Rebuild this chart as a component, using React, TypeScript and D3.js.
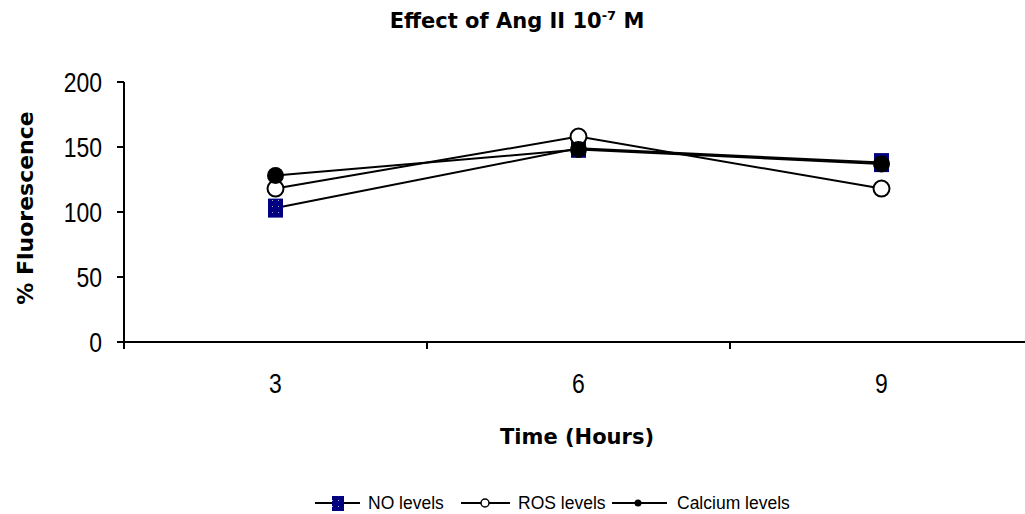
import React from "react";
import * as d3 from "d3";

const categories = ["3", "6", "9"];
const noLevels = [103, 149, 138];
const rosLevels = [118, 158, 118];
const calciumLevels = [128, 148, 137];
const yTicks = [0, 50, 100, 150, 200];

const W = 1025;
const H = 514;

export default function App() {
  const x = d3.scaleBand<string>().domain(categories).range([124, 1033]);
  const y = d3.scaleLinear().domain([0, 200]).range([342, 82]);
  const cx = (c: string) => (x(c) as number) + x.bandwidth() / 2;
  const line = d3
    .line<number>()
    .x((_, i) => cx(categories[i]))
    .y((d) => y(d));
  const sans = "'Liberation Sans', Arial, sans-serif";
  const bold = "'DejaVu Sans', 'Liberation Sans', Arial, sans-serif";

  const square = (px: number, py: number, key: string | number) => (
    <rect key={key} x={px - 7.5} y={py - 9.5} width={15} height={19} fill="url(#dots)" />
  );
  const ros = (px: number, py: number, key: string | number) => (
    <circle key={key} cx={px} cy={py} r={8} fill="#fff" stroke="#000" strokeWidth={2} />
  );
  const cal = (px: number, py: number, key: string | number) => (
    <circle key={key} cx={px} cy={py} r={8.5} fill="#000" />
  );

  return (
    <svg width={W} height={H} style={{ position: "absolute", left: 0, top: 0, background: "#fff" }}>
      <defs>
        <pattern id="dots" width={6} height={6} patternUnits="userSpaceOnUse">
          <rect width={6} height={6} fill="#000080" />
          <rect x={2} y={2} width={1} height={1} fill="#aab" />
        </pattern>
      </defs>
      <rect width={W} height={H} fill="#fff" />
      <text x={517} y={28} textAnchor="middle" fontFamily={bold} fontWeight="bold" fontSize={21}>
        Effect of Ang II 10
        <tspan dy={-8} fontSize={13}>-7</tspan>
        <tspan dy={8}> M</tspan>
      </text>
      {/* y axis */}
      <line x1={124} x2={124} y1={y(200)} y2={y(0)} stroke="#000" strokeWidth={2} />
      {yTicks.map((t) => (
        <g key={t}>
          <line x1={117} x2={124} y1={y(t)} y2={y(t)} stroke="#000" strokeWidth={2} />
          <text
            transform={`translate(102,${y(t) + 10}) scale(0.82,1)`}
            textAnchor="end"
            fontFamily={sans}
            fontSize={28}
          >
            {t}
          </text>
        </g>
      ))}
      <text
        transform={`translate(33,${208}) rotate(-90)`}
        textAnchor="middle"
        fontFamily={bold}
        fontWeight="bold"
        fontSize={22}
      >
        % Fluorescence
      </text>
      {/* x axis */}
      <line x1={117} x2={W} y1={y(0)} y2={y(0)} stroke="#000" strokeWidth={2} />
      {categories.map((c) => (
        <line key={c} x1={x(c) as number} x2={x(c) as number} y1={y(0)} y2={y(0) + 7} stroke="#000" strokeWidth={2} />
      ))}
      {categories.map((c) => (
        <text
          key={c}
          transform={`translate(${cx(c)},393) scale(0.82,1)`}
          textAnchor="middle"
          fontFamily={sans}
          fontSize={28}
        >
          {c}
        </text>
      ))}
      <text x={577} y={444} textAnchor="middle" fontFamily={bold} fontWeight="bold" fontSize={21}>
        Time (Hours)
      </text>
      {/* lines */}
      {[noLevels, rosLevels, calciumLevels].map((s, i) => (
        <path key={i} d={line(s) as string} fill="none" stroke="#000" strokeWidth={2} />
      ))}
      {noLevels.map((v, i) => square(cx(categories[i]), y(v), "n" + i))}
      {rosLevels.map((v, i) => ros(cx(categories[i]), y(v), "r" + i))}
      {calciumLevels.map((v, i) => cal(cx(categories[i]), y(v), "c" + i))}
      {/* legend */}
      <g fontFamily={sans} fontSize={17.5}>
        <line x1={315} x2={360} y1={503} y2={503} stroke="#000" strokeWidth={2} />
        <rect x={332} y={496} width={12} height={15} fill="url(#dots)" />
        <text x={368} y={509}>NO levels</text>
        <line x1={461} x2={510} y1={503} y2={503} stroke="#000" strokeWidth={2} />
        <circle cx={485} cy={503} r={4} fill="#fff" stroke="#000" strokeWidth={1.5} />
        <text x={518} y={509}>ROS levels</text>
        <line x1={612} x2={667} y1={503} y2={503} stroke="#000" strokeWidth={2} />
        <circle cx={638} cy={503} r={3.5} fill="#000" />
        <text x={677} y={509}>Calcium levels</text>
      </g>
    </svg>
  );
}
